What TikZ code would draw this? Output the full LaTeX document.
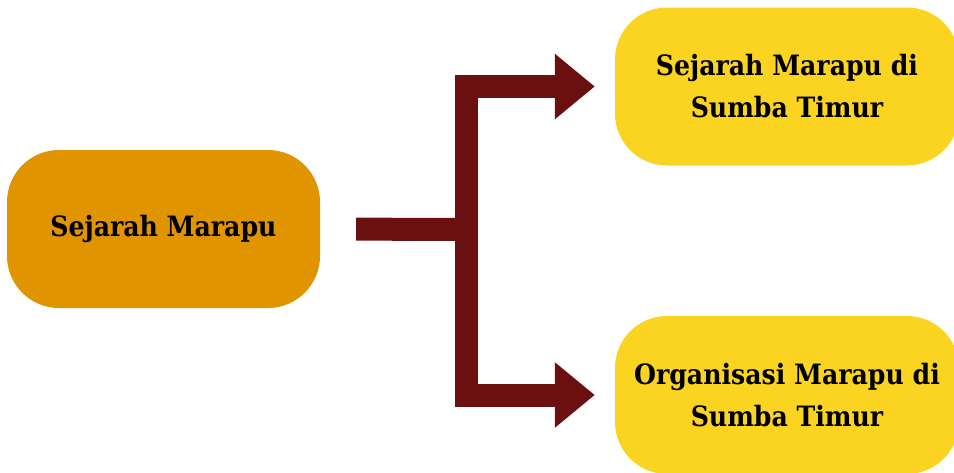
\documentclass[tikz,border=0pt]{standalone}
\usepackage{fontspec}
\setmainfont{DejaVu Serif Condensed}
\usepackage{tikz}
\usetikzlibrary{arrows.meta}

\definecolor{marapuorange}{RGB}{224,148,0}
\definecolor{marapuyellow}{RGB}{250,212,32}
\definecolor{marapured}{RGB}{107,16,16}

\begin{document}
\begin{tikzpicture}[x=1pt, y=-1pt,
    box/.style={rectangle, rounded corners=52pt, align=center, inner sep=0pt,
        font=\bfseries\fontsize{28}{42}\selectfont},
    flow/.style={draw=marapured, line width=23pt},
    flowtip/.style={flow, -{Triangle[length=40pt, width=63pt]}, shorten >=20pt}]
        \useasboundingbox (0,0) rectangle (954,472);
        \clip (0,0) rectangle (954,472);

        % Nodes
        \node[box, fill=marapuorange, minimum width=313pt, minimum height=158pt] (sejarah) at (163.5, 229) {Sejarah Marapu};
        \node[box, fill=marapuyellow, minimum width=344pt, minimum height=158pt] (sumba) at (787, 86.5) {Sejarah Marapu di\\Sumba Timur};
        \node[box, fill=marapuyellow, minimum width=344pt, minimum height=158pt] (organisasi) at (787, 395) {Organisasi Marapu di\\Sumba Timur};
        \coordinate (split) at (466.5, 229.5);

        % Lines
        \draw[flow, shorten <=36pt] (sejarah.east) -- (split);
        \draw[flowtip] (split) |- (sumba.west);
        \draw[flowtip] (split) |- (organisasi.west);
    \end{tikzpicture}
\end{document}
